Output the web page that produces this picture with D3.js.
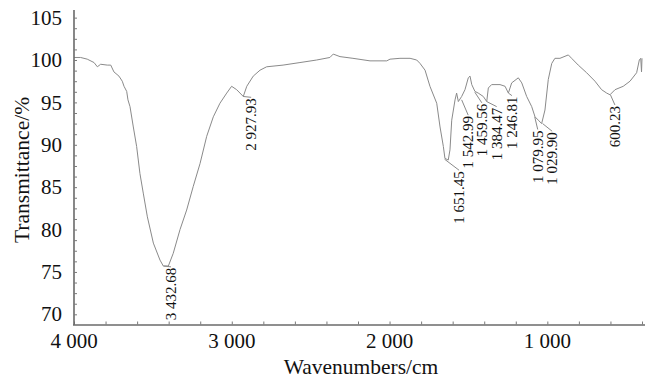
<!DOCTYPE html>
<html>
<head>
<meta charset="utf-8">
<script src="https://cdn.jsdelivr.net/npm/d3@7"></script>
<style>
  body { margin: 0; background: #fff; }
  svg { display: block; }
  text { font-family: "Liberation Serif", "Times New Roman", serif; fill: #111; }
</style>
</head>
<body>
<div id="chart"></div>
<script>
// spectrum
var wavenumbers = [4000, 3958, 3916, 3873, 3852, 3831, 3789, 3767, 3747, 3715,
                   3694, 3683, 3666, 3658, 3645, 3624, 3603, 3582, 3561, 3535,
                   3497, 3455, 3434, 3402, 3371, 3328, 3286, 3244, 3201, 3159,
                   3117, 3075, 3032, 3001, 2969, 2927, 2905, 2864, 2821, 2779,
                   2675, 2568, 2462, 2378, 2357, 2314, 2232, 2124, 2018, 1997,
                   1934, 1870, 1828, 1807, 1775, 1744, 1701, 1680, 1659, 1649,
                   1628, 1617, 1606, 1585, 1575, 1564, 1543, 1522, 1501, 1490,
                   1479, 1459, 1438, 1406, 1384, 1374, 1353, 1300, 1268, 1247,
                   1226, 1184, 1162, 1131, 1099, 1078, 1057, 1036, 1015, 994,
                   972, 952, 920, 867, 846, 804, 751, 698, 656, 624,
                   603, 571, 519, 476, 434, 417, 408, 403, 400];
var transmittance = [100.3, 100.3, 100.1, 99.7, 99.2, 99.5, 99.4, 99.4, 98.6, 98.1,
                     97.5, 96.9, 96.3, 95.3, 94.5, 92.1, 89.8, 86.6, 84.3, 81.5,
                     78.4, 76.4, 75.7, 75.7, 77.2, 80.0, 82.3, 85.1, 87.8, 91.0,
                     93.3, 94.9, 96.1, 96.9, 96.5, 95.7, 96.9, 98.1, 98.8, 99.2,
                     99.4, 99.7, 100.0, 100.3, 100.7, 100.4, 100.2, 99.9, 99.9, 100.1,
                     100.2, 100.2, 100.0, 99.6, 98.8, 96.9, 94.9, 92.1, 89.8, 88.4,
                     88.2, 89.4, 92.9, 95.3, 96.1, 95.1, 95.7, 96.5, 97.9, 98.1,
                     97.1, 96.3, 96.1, 95.7, 95.1, 96.7, 97.1, 97.1, 96.9, 96.1,
                     97.3, 97.9, 97.3, 95.7, 94.5, 93.3, 92.9, 92.5, 94.1, 97.7,
                     99.6, 100.2, 100.2, 100.6, 100.2, 99.4, 98.5, 97.5, 96.5, 96.1,
                     95.9, 96.5, 96.9, 97.5, 98.5, 100.0, 100.2, 98.6, 100.2];

// labelled peaks
var peakWavenumbers = [3432.68, 2927.93, 1651.45, 1542.99, 1459.56, 1384.47,
                       1246.81, 1079.95, 1029.90, 600.23];
var peakNames = ["3 432.68", "2 927.93", "1 651.45", "1 542.99", "1 459.56",
                 "1 384.47", "1 246.81", "1 079.95", "1 029.90", "600.23"];
var peakValues = [75.7, 95.7, 88.3, 95.3, 96.2, 95.1, 96.1, 93.3, 92.5, 95.9];

var xTicks = [4000, 3000, 2000, 1000];
var xTickLabels = ["4 000", "3 000", "2 000", "1 000"];
var yTicks = [70, 75, 80, 85, 90, 95, 100, 105];

// where each peak label sits (its top end, in % units) and its sideways shift
var labelTop = [75.6, 95.6, 87.0, 93.5, 94.95, 94.5, 95.8, 91.8, 91.6, 94.7];
var labelShift = [7.5, 8, 14.5, 6.5, 7, 10, 3.5, 3, 9.5, 4.5];

function main() {
    var W = 646, H = 379;

    var x = d3.scaleLinear().domain([4000, 400]).range([74, 642]);
    var y = d3.scaleLinear().domain([68.8, 105.9]).range([324.5, 10]);

    var svg = d3.select("#chart").append("svg")
        .attr("width", W)
        .attr("height", H);

    var data = _zip(wavenumbers, transmittance);

    // the spectrum
    svg.append("path")
        .datum(data)
        .attr("fill", "none")
        .attr("stroke", "#8a8a8a")
        .attr("stroke-width", 1)
        .attr("d", d3.line()
            .x(function (d) { return x(d.w); })
            .y(function (d) { return y(d.t); }));

    // axes
    var xAxis = d3.axisBottom(x)
        .tickValues(d3.range(4000, 399, -200))
        .tickSize(-3)
        .tickFormat("");
    svg.append("g")
        .attr("transform", "translate(0,324.5)")
        .call(xAxis)
        .call(function (g) {
            g.select(".domain").attr("d", "M73,0.5H645");
        });

    var yAxis = d3.axisLeft(y)
        .tickValues(d3.range(70, 106, 1.25))
        .tickSize(-3)
        .tickFormat("");
    svg.append("g")
        .attr("transform", "translate(74,0)")
        .call(yAxis)
        .call(function (g) {
            g.select(".domain").attr("d", "M0,10V325");
        });

    svg.selectAll(".domain")
        .attr("stroke", "#6a6a6a")
        .attr("stroke-width", 1.6);
    svg.selectAll(".tick line")
        .attr("stroke", "#7a7a7a")
        .attr("stroke-width", 1);

    // tick labels
    svg.selectAll("text.xl")
        .data(xTicks)
        .enter()
        .append("text")
        .attr("class", "xl")
        .attr("x", function (d) { return x(d); })
        .attr("y", 348)
        .attr("text-anchor", "middle")
        .style("font-size", "21px")
        .text(function (d, i) { return xTickLabels[i]; });

    svg.selectAll("text.yl")
        .data(yTicks)
        .enter()
        .append("text")
        .attr("class", "yl")
        .attr("x", 62)
        .attr("y", function (d) { return y(d); })
        .attr("dy", "0.34em")
        .attr("text-anchor", "end")
        .style("font-size", "21px")
        .text(function (d) { return d; });

    // titles
    svg.append("text")
        .attr("x", 361)
        .attr("y", 374)
        .attr("text-anchor", "middle")
        .style("font-size", "21.5px")
        .text("Wavenumbers/cm");

    svg.append("text")
        .attr("transform", "translate(29,170) rotate(-90)")
        .attr("text-anchor", "middle")
        .style("font-size", "21.5px")
        .text("Transmittance/%");

    // peak leaders and labels
    var peaks = peakWavenumbers.map(function (w, i) {
        return { w: w, name: peakNames[i], t: peakValues[i],
                 top: labelTop[i], dx: labelShift[i] };
    });

    svg.selectAll("line.lead")
        .data(peaks)
        .enter()
        .append("line")
        .attr("class", "lead")
        .attr("x1", function (d) { return x(d.w); })
        .attr("y1", function (d) { return y(d.t); })
        .attr("x2", function (d) { return x(d.w) + d.dx; })
        .attr("y2", function (d) { return y(d.top); })
        .attr("stroke", "#8a8a8a")
        .attr("stroke-width", 1);

    svg.selectAll("text.peak")
        .data(peaks)
        .enter()
        .append("text")
        .attr("class", "peak")
        .attr("transform", function (d) {
            return "translate(" + (x(d.w) + d.dx + 5) + "," + (y(d.top) + 1) + ") rotate(-90)";
        })
        .attr("text-anchor", "end")
        .style("font-size", "15px")
        .text(function (d) { return d.name; });
}

function _zip(ws, ts) {
    return ws.map(function (w, i) { return { w: w, t: ts[i] }; });
}

main();
</script>
</body>
</html>
